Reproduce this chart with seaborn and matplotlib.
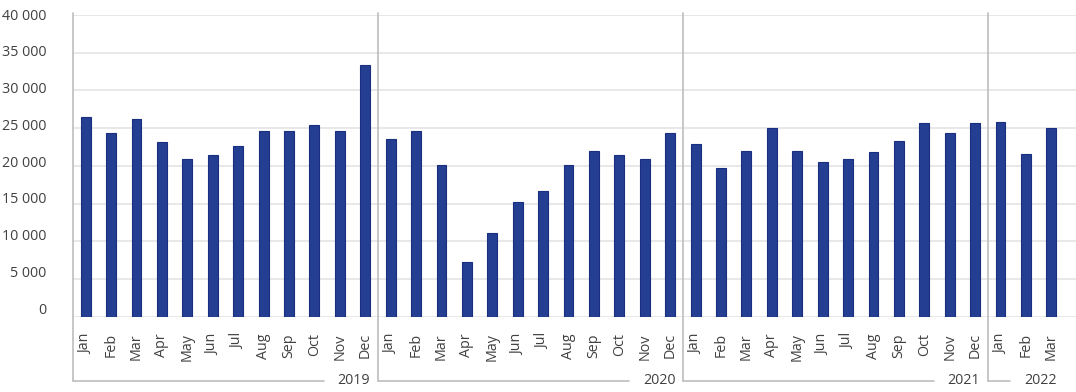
import numpy as np
import pandas as pd
import seaborn as sns
import matplotlib.pyplot as plt
import matplotlib.transforms as mtrans
from matplotlib.ticker import FuncFormatter

# monthly values Jan 2019 .. Mar 2022
years = ["2019", "2020", "2021", "2022"]
months = ["Jan", "Feb", "Mar", "Apr", "May", "Jun",
          "Jul", "Aug", "Sep", "Oct", "Nov", "Dec"]
vals_2019 = [26500, 24400, 26150, 23100, 20950, 21450, 22650, 24600, 24600, 25450, 24600, 33350]
vals_2020 = [23550, 24600, 20150, 7250, 11150, 15200, 16700, 20150, 22000, 21450, 20950, 24400]
vals_2021 = [22900, 19650, 22000, 25050, 22000, 20550, 20950, 21800, 23300, 25650, 24400, 25650]
vals_2022 = [25850, 21600, 25050]

series = [vals_2019, vals_2020, vals_2021, vals_2022]
df = pd.DataFrame({
    "year": [y for y, s in zip(years, series) for _ in s],
    "month": [months[i] for s in series for i in range(len(s))],
    "value": [v for s in series for v in s],
})
df["period"] = df["year"] + "-" + df["month"]

sns.set_style("white")
plt.rcParams["font.family"] = ["Open Sans", "DejaVu Sans"]
txt = "#404040"

W, H = 1076, 392
fig = plt.figure(figsize=(W / 100, H / 100), dpi=100)
ax = fig.add_axes([73 / W, 75.3 / H, 1003 / W, 301.7 / H])

sns.barplot(data=df, x="period", y="value", order=list(df["period"]), ax=ax,
            color="#243F92", edgecolor="#1A2E80", linewidth=0.8, width=0.39,
            saturation=1, zorder=3)

ax.set_ylim(0, 40000)
ax.set_xlim(-0.5, 38.97)
ax.set_yticks(range(0, 40001, 5000))
ax.yaxis.set_major_formatter(FuncFormatter(lambda v, p: f"{int(v):,}".replace(",", " ")))
ax.yaxis.grid(True, color="#e6e6e6", lw=1.3, zorder=0)
ax.set_axisbelow(True)
for s in ax.spines.values():
    s.set_visible(False)

ax.set_xticks(range(len(df)))
ax.set_xticklabels(df["month"], rotation=90, va="top", ha="center")
ax.tick_params(axis="x", length=0, pad=12, labelsize=10.3, labelcolor=txt)
ax.tick_params(axis="y", length=0, pad=19, labelsize=10.3, labelcolor=txt)
ax.set_xlabel("")
ax.set_ylabel("")

# y labels sit a little above their gridlines, more so near the bottom (pixels)
for lab, v in zip(ax.get_yticklabels(), ax.get_yticks()):
    dy = (1 + 7.5 * (1 - v / 40000)) / fig.dpi
    lab.set_transform(lab.get_transform() + mtrans.ScaledTranslation(0, dy, fig.dpi_scale_trans))

# year separators and group brackets
tr = ax.get_xaxis_transform()
y_top, y_bot = 1.007, -0.213
starts = np.cumsum([0] + [len(s) for s in series])
for i, x in enumerate(starts[:-1]):
    ax.plot([x - 0.5, x - 0.5], [y_top, y_bot], transform=tr, color="#bdbdbd",
            lw=1.2, clip_on=False, zorder=1)

fig.canvas.draw()
r = fig.canvas.get_renderer()
inv = ax.transData.inverted()
for i, yr in enumerate(years):
    x0, x1 = starts[i] - 0.5, starts[i + 1] - 0.5
    t = ax.text(x1 - 0.3, y_bot, yr, transform=tr, ha="right", va="center",
                fontsize=10.3, color=txt, clip_on=False)
    bb = t.get_window_extent(renderer=r)
    left = inv.transform((bb.x0 - 14, 0))[0]
    ax.plot([x0, left], [y_bot, y_bot], transform=tr, color="#bdbdbd",
            lw=1.2, clip_on=False, zorder=1)

fig.savefig("out.png", dpi=100)
